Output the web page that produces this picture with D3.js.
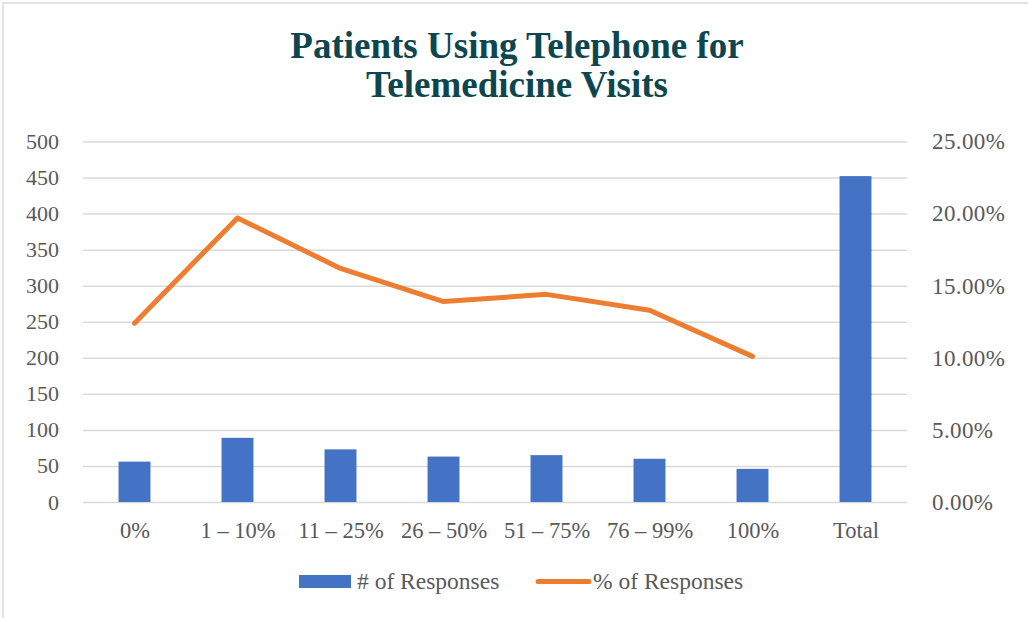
<!DOCTYPE html>
<html>
<head>
<meta charset="utf-8">
<script src="https://cdn.jsdelivr.net/npm/d3@7"></script>
<style>
  html, body { margin: 0; padding: 0; background: #fff; }
  svg { display: block; }
</style>
</head>
<body>
<svg id="chart" width="1029" height="618"></svg>
<script>
// Telephone-visit share buckets and the total row
const categories = ["0%", "1 – 10%", "11 – 25%", "26 – 50%", "51 – 75%", "76 – 99%", "100%", "Total"];
const responses = [56, 89, 73, 63, 65, 60, 46, 452];
const percents = [0.124, 0.197, 0.162, 0.139, 0.144, 0.133, 0.101, null];
const leftTicks = [0, 50, 100, 150, 200, 250, 300, 350, 400, 450, 500];
const rightTicks = [0, 0.05, 0.10, 0.15, 0.20, 0.25];
const seriesNames = ["# of Responses", "% of Responses"];
const titleLines = ["Patients Using Telephone for", "Telemedicine Visits"];

const W = 1029, H = 618;
const plot = { left: 83, right: 907, top: 141.5, bottom: 502 };
const serif = "'Liberation Serif', 'DejaVu Serif', serif";
const textGrey = "#595959";
const barColor = "#4472C4";
const lineColor = "#ED7D31";

const svg = d3.select("#chart");

// outer frame (top and left edges)
svg.append("path")
  .attr("d", `M3,${H} L3,3 L${W - 1},3`)
  .attr("fill", "none")
  .attr("stroke", "#d9d9d9")
  .attr("stroke-width", 1.5);

// title
svg.append("g").selectAll("text")
  .data(titleLines)
  .join("text")
  .attr("x", 517)
  .attr("y", (d, i) => 58 + i * 39)
  .attr("text-anchor", "middle")
  .attr("font-family", serif)
  .attr("font-weight", "bold")
  .attr("font-size", 37)
  .attr("fill", "#0E4650")
  .text(d => d);

const x = d3.scaleBand()
  .domain(categories)
  .range([plot.left, plot.right])
  .paddingInner(0.69)
  .paddingOuter(0.345);

const xc = d3.scalePoint()
  .domain(categories)
  .range([plot.left, plot.right])
  .padding(0.5);

const yL = d3.scaleLinear().domain([0, 500]).range([plot.bottom, plot.top]);
const yR = d3.scaleLinear().domain([0, 0.25]).range([plot.bottom, plot.top]);

// gridlines
svg.append("g")
  .attr("transform", `translate(${plot.left},0)`)
  .call(d3.axisLeft(yL).tickValues(leftTicks).tickSize(-(plot.right - plot.left)).tickFormat(""))
  .call(g => g.select(".domain").remove())
  .call(g => g.selectAll("line").attr("stroke", "#d9d9d9").attr("stroke-width", 1.5));

// left axis labels
svg.append("g")
  .attr("transform", `translate(${plot.left},0)`)
  .call(d3.axisLeft(yL).tickValues(leftTicks).tickSize(0).tickPadding(24).tickFormat(d3.format("d")))
  .call(g => g.select(".domain").remove())
  .call(g => g.selectAll("text")
    .attr("font-family", serif).attr("font-size", 22).attr("fill", textGrey));

// right axis labels
svg.append("g")
  .attr("transform", `translate(${plot.right},0)`)
  .call(d3.axisRight(yR).tickValues(rightTicks).tickSize(0).tickPadding(25).tickFormat(d3.format(".2%")))
  .call(g => g.select(".domain").remove())
  .call(g => g.selectAll("text")
    .attr("font-family", serif).attr("font-size", 23).attr("letter-spacing", 0.4).attr("fill", textGrey));

// category labels
svg.append("g")
  .attr("transform", `translate(0,${plot.bottom})`)
  .call(d3.axisBottom(xc).tickSize(0).tickPadding(20))
  .call(g => g.select(".domain").remove())
  .call(g => g.selectAll("text")
    .attr("font-family", serif).attr("font-size", 22.5).attr("fill", textGrey));

// bars
svg.append("g").selectAll("rect")
  .data(categories.map((c, i) => ({ c, v: responses[i] })))
  .join("rect")
  .attr("x", d => x(d.c))
  .attr("width", x.bandwidth())
  .attr("y", d => yL(d.v))
  .attr("height", d => yL(0) - yL(d.v))
  .attr("fill", barColor);

// percentage line
const lineData = categories.map((c, i) => ({ c, v: percents[i] })).filter(d => d.v !== null);
svg.append("path")
  .datum(lineData)
  .attr("fill", "none")
  .attr("stroke", lineColor)
  .attr("stroke-width", 5)
  .attr("stroke-linecap", "round")
  .attr("stroke-linejoin", "round")
  .attr("d", d3.line().x(d => xc(d.c)).y(d => yR(d.v)));

// legend
const legend = svg.append("g");
legend.append("rect")
  .attr("x", 299).attr("y", 575).attr("width", 52).attr("height", 13)
  .attr("fill", barColor);
legend.append("line")
  .attr("x1", 538).attr("x2", 589).attr("y1", 581.5).attr("y2", 581.5)
  .attr("stroke", lineColor).attr("stroke-width", 5).attr("stroke-linecap", "round");
legend.selectAll("text")
  .data(seriesNames)
  .join("text")
  .attr("x", (d, i) => i === 0 ? 357 : 593)
  .attr("y", 589)
  .attr("font-family", serif)
  .attr("font-size", 23.5)
  .attr("fill", textGrey)
  .text(d => d);
</script>
</body>
</html>
